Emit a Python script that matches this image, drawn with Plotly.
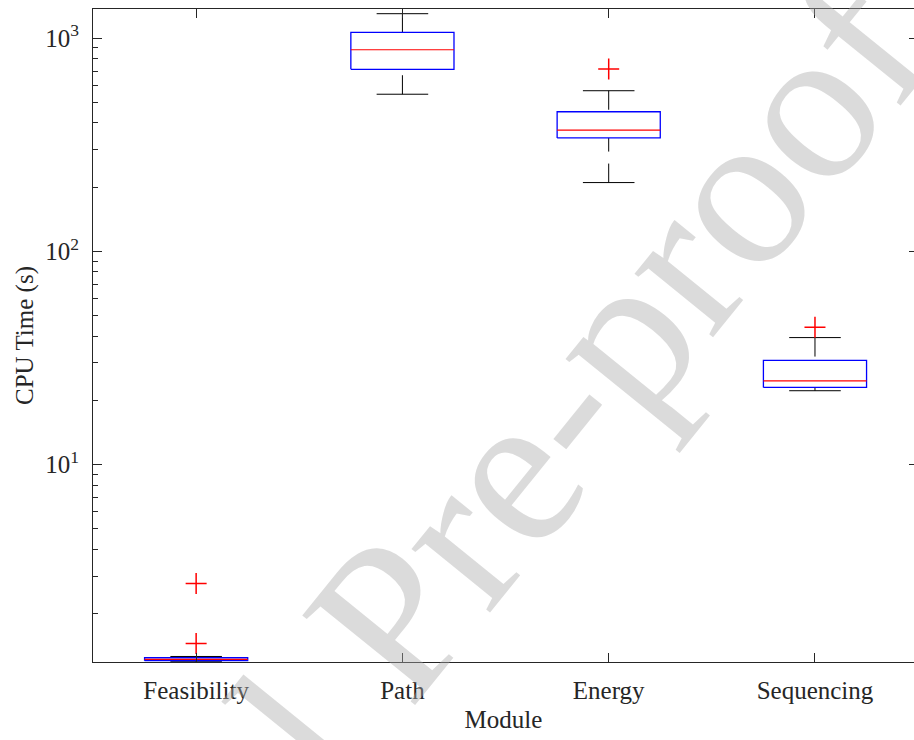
import numpy as np
import plotly.graph_objects as go

# CPU time statistics per module (seconds)
modules = ["Feasibility", "Path", "Energy", "Sequencing"]
lower_whisker = [1.19, 545, 210, 22.2]
q1 = [1.204, 713, 340, 23.0]
median = [1.222, 881, 370, 24.7]
q3 = [1.243, 1063, 451, 30.8]
upper_whisker = [1.26, 1300, 566, 39.4]
outliers = [[2.77, 1.45], [], [716], [44.0]]

major_ticks = [10, 100, 1000]
major_labels = ["10<sup>1</sup>", "10<sup>2</sup>", "10<sup>3</sup>"]
minor_ticks = [m * 10 ** k for k in range(0, 3) for m in range(2, 10)]

BOX_HALF = 0.25
CAP_HALF = 0.125
FONT = "Liberation Serif"
AXIS_COLOR = "#262626"

pos = np.arange(1, len(modules) + 1)

wx, wy, cx, cy, bx, by, mx, my, ox, oy = ([] for _ in range(10))
for p, lw, a, m, b, uw, outs in zip(pos, lower_whisker, q1, median, q3, upper_whisker, outliers):
    # whiskers run from the cap toward the box
    wx += [p, p, None, p, p, None]
    wy += [uw, b, None, lw, a, None]
    cx += [p - CAP_HALF, p + CAP_HALF, None, p - CAP_HALF, p + CAP_HALF, None]
    cy += [uw, uw, None, lw, lw, None]
    bx += [p - BOX_HALF, p + BOX_HALF, p + BOX_HALF, p - BOX_HALF, p - BOX_HALF, None]
    by += [a, a, b, b, a, None]
    mx += [p - BOX_HALF, p + BOX_HALF, None]
    my += [m, m, None]
    ox += [p] * len(outs)
    oy += list(outs)

fig = go.Figure()
fig.add_trace(go.Scatter(x=wx, y=wy, mode="lines", hoverinfo="skip",
                         line=dict(color="black", width=1, dash="19px,12px")))
fig.add_trace(go.Scatter(x=cx, y=cy, mode="lines", hoverinfo="skip",
                         line=dict(color="black", width=1)))
fig.add_trace(go.Scatter(x=bx, y=by, mode="lines", hoverinfo="skip",
                         line=dict(color="#0000ff", width=1.3)))
fig.add_trace(go.Scatter(x=mx, y=my, mode="lines", hoverinfo="skip",
                         line=dict(color="#ff0000", width=1.2)))
fig.add_trace(go.Scatter(x=ox, y=oy, mode="markers", hoverinfo="skip",
                         marker=dict(symbol="cross-thin", size=15,
                                     line=dict(color="#ff0000", width=1.5))))
# right-hand tick marks
fig.add_trace(go.Scatter(x=[pos[0]], y=[major_ticks[0]], yaxis="y2", mode="markers",
                         marker=dict(opacity=0), hoverinfo="skip"))

y_range = [0.0745, 3.136]

fig.update_layout(
    width=914, height=740,
    margin=dict(l=93, r=0, t=9, b=78),
    paper_bgcolor="white", plot_bgcolor="white",
    showlegend=False,
    font=dict(family=FONT, size=25, color=AXIS_COLOR),
    xaxis=dict(
        range=[0.5, 4.48], tickvals=pos, ticktext=modules,
        showline=True, linecolor=AXIS_COLOR, linewidth=1, mirror="ticks",
        ticks="inside", ticklen=9, tickcolor=AXIS_COLOR, showgrid=False, zeroline=False,
        ticklabelstandoff=6,
        title=dict(text="Module", font=dict(size=25), standoff=7),
    ),
    yaxis=dict(
        type="log", range=y_range, tickvals=major_ticks, ticktext=major_labels,
        showline=True, linecolor=AXIS_COLOR, linewidth=1,
        ticks="inside", ticklen=9, tickcolor=AXIS_COLOR, showgrid=False, zeroline=False,
        ticklabelstandoff=8,
        minor=dict(tickvals=minor_ticks, ticks="inside", ticklen=5, tickcolor=AXIS_COLOR),
        title=dict(text="CPU Time (s)", font=dict(size=25), standoff=4),
    ),
    yaxis2=dict(
        type="log", range=y_range, overlaying="y", side="right",
        tickvals=major_ticks, showticklabels=False, showline=False, showgrid=False,
        ticks="inside", ticklen=5, tickcolor=AXIS_COLOR, zeroline=False,
    ),
)

fig.add_annotation(
    text="Journal Pre-proof", xref="paper", yref="paper", x=0.37, y=0.08,
    xanchor="center", yanchor="middle", showarrow=False, textangle=-51,
    font=dict(family=FONT, size=220, color="rgba(170,170,170,0.42)"),
)

fig.write_html("out.html")
